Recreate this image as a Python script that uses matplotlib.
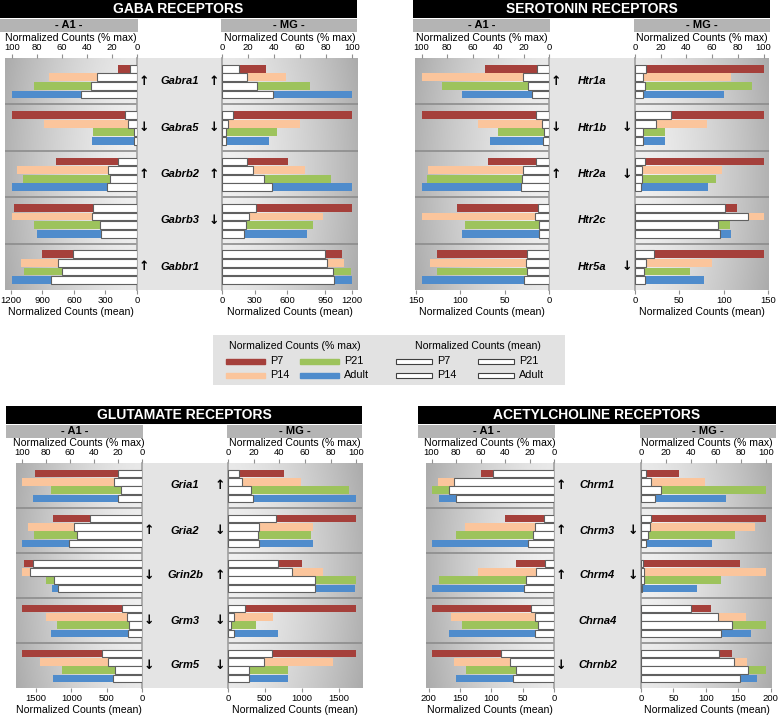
import numpy as np
import matplotlib
matplotlib.use("Agg")
import matplotlib.pyplot as plt
from matplotlib.patches import Rectangle

plt.rcParams['font.family'] = ['Liberation Sans', 'DejaVu Sans']

W, H = 778, 718

# ages / colours
ages = ['P7', 'P14', 'P21', 'Adult']
age_colors = ['#a5403b', '#fbc59c', '#9dc35c', '#4f8ccc']

# ---------------- data (per gene: P7, P14, P21, Adult) ----------------
gaba_genes = ['Gabra1', 'Gabra5', 'Gabrb2', 'Gabrb3', 'Gabbr1']
gaba_a1_pct = [[15, 70, 82, 100], [100, 74, 35, 36], [65, 96, 91, 100],
               [98, 100, 82, 80], [76, 93, 90, 100]]
gaba_a1_mean = [[71, 377, 435, 532], [113, 87, 32, 29], [184, 271, 261, 287],
                [419, 426, 352, 345], [610, 748, 716, 813]]
gaba_mg_pct = [[34, 49, 68, 100], [100, 60, 42, 36], [51, 64, 84, 100],
               [100, 78, 70, 65], [92, 94, 99, 100]]
gaba_mg_mean = [[156, 227, 321, 467], [100, 56, 37, 37], [227, 287, 383, 458],
                [318, 249, 224, 202], [950, 966, 1028, 1034]]
gaba_arrows_a1 = ['up', 'down', 'up', '', 'up']
gaba_arrows_mg = ['up', 'down', 'up', 'down', '']

sero_genes = ['Htr1a', 'Htr1b', 'Htr2a', 'Htr2c', 'Htr5a']
sero_a1_pct = [[50, 100, 84, 68], [100, 56, 40, 46], [48, 95, 96, 100],
               [72, 100, 66, 68], [88, 93.5, 88, 100]]
sero_a1_mean = [[14, 29, 24, 19.5], [15, 8, 5.6, 6.8], [15, 29, 30, 31],
                [12, 16, 11.3, 11], [25, 26, 25, 28]]
sero_mg_pct = [[100, 75, 91, 69], [100, 56, 23.6, 23.6], [100, 68, 63, 57],
               [79, 100, 73.5, 75], [100, 60, 43, 54]]
sero_mg_mean = [[12.4, 9.4, 11.3, 8.6], [40.6, 23.7, 9.4, 9.4], [11.3, 7.5, 7.9, 6.8],
                [101.5, 127, 94, 96], [21, 12.4, 9.8, 11.3]]
sero_arrows_a1 = ['up', 'down', 'up', '', '']
sero_arrows_mg = ['', 'down', 'down', '', 'down']

glut_genes = ['Gria1', 'Gria2', 'Grin2b', 'Grm3', 'Grm5']
glut_a1_pct = [[89, 100, 76, 91], [74, 95, 90, 100], [98, 100, 80, 75],
               [100, 80, 71, 76], [100, 85, 67, 74]]
glut_a1_mean = [[343, 390, 295, 343], [738, 962, 924, 1033], [1548, 1590, 1248, 1190],
                [281, 214, 190, 200], [571, 486, 376, 414]]
glut_mg_pct = [[44, 57, 94.5, 100], [100, 66.6, 64.5, 66], [58, 74, 100, 99],
               [100, 35, 22, 38.6], [100, 82, 46.5, 47]]
glut_mg_mean = [[150, 191, 318, 341], [650, 423, 409, 418], [682, 873, 1182, 1182],
                [227, 82, 36, 82], [591, 491, 282, 282]]
glut_arrows_a1 = ['', 'up', 'down', 'down', 'down']
glut_arrows_mg = ['up', 'down', 'up', 'down', 'down']

ach_genes = ['Chrm1', 'Chrm3', 'Chrm4', 'Chrna4', 'Chrnb2']
ach_a1_pct = [[60, 95, 100, 94], [40, 73, 80, 100], [31, 62, 94, 100],
              [100, 84, 75, 86], [100, 82, 72, 80]]
ach_a1_mean = [[98, 159, 167, 156], [16, 30, 34, 41], [14, 29, 45, 48],
               [37, 30, 26, 30], [84, 70, 60, 66]]
ach_mg_pct = [[30, 51, 100, 68], [100, 91, 75, 57], [79, 100, 64, 45],
              [56, 84, 100, 88], [73, 85, 100, 93]]
ach_mg_mean = [[7.7, 15.4, 30.8, 21.5], [15.4, 14.4, 11.3, 8.2], [3, 4.6, 4.1, 1.5],
               [77, 118, 140, 123], [120.5, 143.6, 165, 152]]
ach_arrows_a1 = ['up', 'up', 'up', '', 'down']
ach_arrows_mg = ['', 'down', 'down', '', '']

pct_ticks = [0, 20, 40, 60, 80, 100]

fig = plt.figure(figsize=(W / 100, H / 100), dpi=100)
fig.patch.set_facecolor('white')

GROUP = 5.4
FIRST = 1.25


def px_axes(x0, y0, x1, y1, **kw):
    return fig.add_axes([x0 / W, 1 - y1 / H, (x1 - x0) / W, (y1 - y0) / H], **kw)


def bar_box(x0, y0, x1, y1, color, text, tcolor, size):
    a = px_axes(x0, y0, x1, y1)
    a.set_facecolor(color)
    a.set_xticks([])
    a.set_yticks([])
    for s in a.spines.values():
        s.set_visible(False)
    a.text(0.5, 0.5, text, color=tcolor, fontsize=size, fontweight='bold',
           ha='center', va='center', transform=a.transAxes)


def gradient_bg(x0, y0, x1, y1, outer_left):
    bg = px_axes(x0, y0, x1, y1)
    bg.set_zorder(0)
    t = np.linspace(0, 1, 200)
    if outer_left:
        t = t[::-1]
    row = 0.94 - 0.24 * t ** 1.5
    yy = np.linspace(-1, 1, 60)[:, None]
    img = row[None, :] - 0.03 * yy ** 2
    bg.imshow(img, cmap='gray', vmin=0, vmax=1, aspect='auto',
              extent=[0, 1, 0, 1], interpolation='bicubic')
    bg.set_xlim(0, 1)
    bg.set_ylim(0, 1)
    bg.axis('off')


def side(x0, x1, y0, y1, pct, mean, pct_lim, mean_lim, mean_ticks,
         mean_labels, left):
    n = len(pct)
    gradient_bg(x0, y0, x1, y1, left)
    ax = px_axes(x0, y0, x1, y1)
    ax.set_zorder(1)
    ax.patch.set_visible(False)
    tw = ax.twiny()
    tw.set_zorder(2)
    tw.patch.set_visible(False)

    pct = np.array(pct)
    mean = np.array(mean)
    for k in range(4):
        ys = np.arange(n) * GROUP + FIRST + k
        ax.barh(ys, pct[:, k], height=0.92, color=age_colors[k], zorder=2)
        tw.barh(ys, mean[:, k], height=0.92, color='white',
                edgecolor='#606060', linewidth=0.8, zorder=3)
    for g in range(1, n):
        ax.axhline(g * GROUP, color='#8c8c8c', lw=1.2, zorder=1)

    ax.set_ylim(n * GROUP, 0)
    tw.set_ylim(n * GROUP, 0)
    if left:
        ax.set_xlim(pct_lim, 0)
        tw.set_xlim(mean_lim, 0)
    else:
        ax.set_xlim(0, pct_lim)
        tw.set_xlim(0, mean_lim)

    ax.xaxis.tick_top()
    ax.xaxis.set_label_position('top')
    tw.xaxis.tick_bottom()
    tw.xaxis.set_label_position('bottom')
    ax.set_xticks(pct_ticks)
    tw.set_xticks(mean_ticks)
    tw.set_xticklabels(mean_labels)
    ax.set_yticks([])
    tw.set_yticks([])
    for a in (ax, tw):
        a.tick_params(axis='x', length=3, width=0.8, color='#909090',
                      labelsize=6.8, pad=1.5)
        for s in a.spines.values():
            s.set_visible(False)
    ax.set_xlabel('Normalized Counts (% max)', fontsize=7.6, labelpad=1)
    tw.set_xlabel('Normalized Counts (mean)', fontsize=7.6, labelpad=1)
    sp = ax.spines['right'] if left else ax.spines['left']
    sp.set_visible(True)
    sp.set_color('#a0a0a0')
    sp.set_linewidth(1.2)


def panel(title, box, genes, a1_pct, a1_mean, mg_pct, mg_mean,
          arrows_a1, arrows_mg, lims, ticks_a1, ticks_mg, labels_mg=None):
    (tx0, tx1, ty0, a1x0, a1x1, mgx0, mgx1, py0, py1) = box
    bar_box(tx0, ty0, tx1, ty0 + 18, 'black', title, 'white', 10)
    bar_box(tx0, ty0 + 19, a1x1 + 1, ty0 + 32, '#b4b4b4', '- A1 -', 'black', 8)
    bar_box(mgx0 - 1, ty0 + 19, tx1, ty0 + 32, '#b4b4b4', '- MG -', 'black', 8)

    # centre strip with gene names and arrows
    c = px_axes(a1x1, py0, mgx0, py1)
    c.set_facecolor('#e4e4e4')
    c.set_xticks([])
    c.set_yticks([])
    for s in c.spines.values():
        s.set_visible(False)
    n = len(genes)
    c.set_xlim(0, 1)
    c.set_ylim(n * GROUP, 0)
    sym = {'up': '\u2191', 'down': '\u2193', '': ''}
    for g, name in enumerate(genes):
        yc = g * GROUP + GROUP / 2
        c.text(0.5, yc, name, fontsize=8, fontweight='bold', style='italic',
               ha='center', va='center')
        c.text(0.075, yc, sym[arrows_a1[g]], fontsize=9, fontweight='bold',
               ha='center', va='center', family=['DejaVu Sans'])
        c.text(0.905, yc, sym[arrows_mg[g]], fontsize=9, fontweight='bold',
               ha='center', va='center', family=['DejaVu Sans'])

    side(a1x0, a1x1, py0, py1, a1_pct, a1_mean, lims[0], lims[1],
         ticks_a1, [str(t) for t in ticks_a1], True)
    side(mgx0, mgx1, py0, py1, mg_pct, mg_mean, lims[2], lims[3],
         ticks_mg, labels_mg or [str(t) for t in ticks_mg], False)


panel('GABA RECEPTORS', (0, 357, 0, 5, 137, 222, 358, 58, 290),
      gaba_genes, gaba_a1_pct, gaba_a1_mean, gaba_mg_pct, gaba_mg_mean,
      gaba_arrows_a1, gaba_arrows_mg, (105.4, 1255, 104.6, 1255),
      [0, 300, 600, 900, 1200], [0, 300, 600, 950, 1200])

panel('SEROTONIN RECEPTORS', (413, 770, 0, 415, 549, 635, 769, 58, 290),
      sero_genes, sero_a1_pct, sero_a1_mean, sero_mg_pct, sero_mg_mean,
      sero_arrows_a1, sero_arrows_mg, (105.2, 151, 104.2, 151),
      [0, 50, 100, 150], [0, 50, 100, 150])

panel('GLUTAMATE RECEPTORS', (6, 362, 406, 16, 142, 228, 362, 463, 688),
      glut_genes, glut_a1_pct, glut_a1_mean, glut_mg_pct, glut_mg_mean,
      glut_arrows_a1, glut_arrows_mg, (105, 1786, 104.4, 1818),
      [0, 500, 1000, 1500], [0, 500, 1000, 1500])

panel('ACETYLCHOLINE RECEPTORS', (418, 776, 406, 426, 554, 641, 772, 463, 688),
      ach_genes, ach_a1_pct, ach_a1_mean, ach_mg_pct, ach_mg_mean,
      ach_arrows_a1, ach_arrows_mg, (104.6, 204, 104.6, 202),
      [0, 50, 100, 150, 200], [0, 50, 100, 150, 200])

# ---------------- legend ----------------
lg = px_axes(213, 335, 565, 385)
lg.set_facecolor('#e2e2e2')
lg.set_xlim(213, 565)
lg.set_ylim(385, 335)
lg.set_xticks([])
lg.set_yticks([])
for s in lg.spines.values():
    s.set_visible(False)
lg.text(295, 346, 'Normalized Counts (% max)', fontsize=7.6, ha='center', va='center')
lg.text(478, 346, 'Normalized Counts (mean)', fontsize=7.6, ha='center', va='center')
slots = [(226, 361), (226, 375), (300, 361), (300, 375)]
slots_w = [(396, 361), (396, 375), (478, 361), (478, 375)]
for k, age in enumerate(ages):
    x, y = slots[k]
    lg.add_patch(Rectangle((x, y - 2.5), 39, 5, color=age_colors[k]))
    lg.text(x + 44, y, age, fontsize=7.8, va='center')
    x, y = slots_w[k]
    lg.add_patch(Rectangle((x, y - 2.5), 36, 5, facecolor='white',
                           edgecolor='#404040', linewidth=0.8))
    lg.text(x + 41, y, age, fontsize=7.8, va='center')

fig.savefig('out.png', dpi=100)
